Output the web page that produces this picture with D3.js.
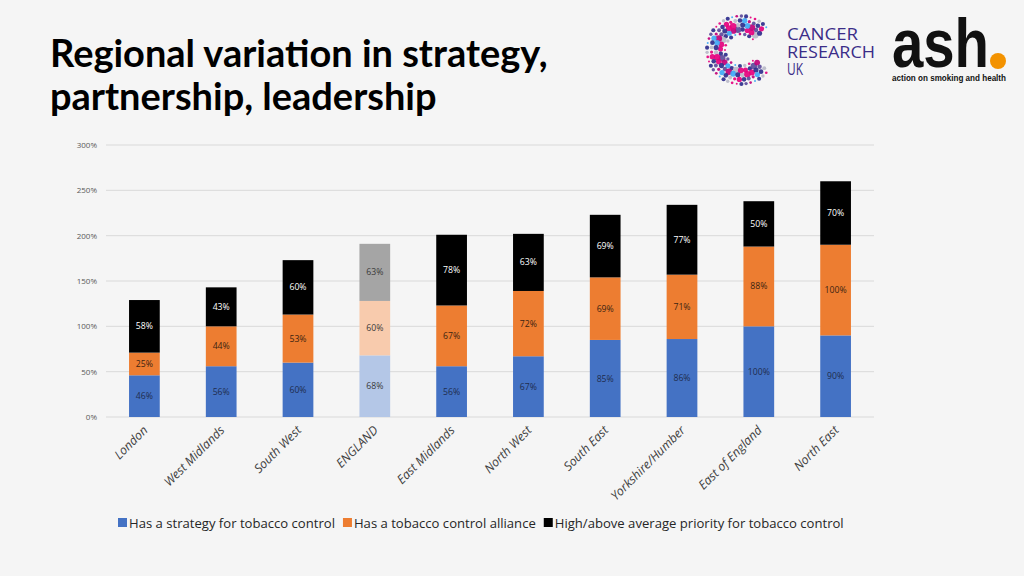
<!DOCTYPE html>
<html><head><meta charset="utf-8">
<script src="https://cdn.jsdelivr.net/npm/d3@7"></script>
<style>
html,body{margin:0;padding:0;background:#f5f5f5;}
svg{display:block;}
</style></head>
<body>
<svg id="c" width="1024" height="576"></svg>
<script>
const categories = ["London","West Midlands","South West","ENGLAND","East Midlands","North West","South East","Yorkshire/Humber","East of England","North East"];
const strategy = [46,56,60,68,56,67,85,86,100,90];
const alliance = [25,44,53,60,67,72,69,71,88,100];
const priority = [58,43,60,63,78,63,69,77,50,70];
const seriesNames = ["Has a strategy for tobacco control","Has a tobacco control alliance","High/above average priority for tobacco control"];
const yTicks = [0,50,100,150,200,250,300];
const highlight = "ENGLAND";

const colors = ["#4472c4","#ed7d31","#000000"];
const lightColors = ["#b4c7e7","#f8cbad","#a5a5a5"];
const labelColors = ["#1f2d4e","#3b2412","#ffffff"];
const lightLabelColors = ["#3a3a3a","#3a3a3a","#3a3a3a"];

const svg = d3.select("#c");
svg.append("rect").attr("width",1024).attr("height",576).attr("fill","#f5f5f5");

// Title
const title = svg.append("g").attr("font-family","Lato, 'Open Sans', sans-serif").attr("font-weight","bold").attr("fill","#000");
const t1 = title.append("text").attr("x",50).attr("y",67).attr("font-size",34).text("Regional variation in strategy,");
const t2 = title.append("text").attr("x",50).attr("y",110).attr("font-size",34).text("partnership, leadership");
const w1 = t1.node().getComputedTextLength();
const s = 498 / w1;
t1.attr("font-size", 34*s);
t2.attr("font-size", 34*s);

// Chart
const m = {l:106, r:874, t:145, b:417};
const x = d3.scaleBand().domain(categories).range([m.l,m.r]).paddingInner(0.6).paddingOuter(0.3);
const y = d3.scaleLinear().domain([0,300]).range([m.b,m.t]);

const yAxis = d3.axisLeft(y).tickValues(yTicks).tickFormat(d=>d+"%").tickSize(0).tickPadding(9);
const gy = svg.append("g").attr("transform",`translate(${m.l},0)`).call(yAxis);
gy.select(".domain").remove();
gy.selectAll("text").attr("font-family","'Open Sans', sans-serif").attr("font-size",8).attr("fill","#595959");

svg.append("g").selectAll("line").data(yTicks).join("line")
  .attr("x1",m.l).attr("x2",m.r).attr("y1",d=>y(d)).attr("y2",d=>y(d))
  .attr("stroke","#d9d9d9").attr("stroke-width",1);

const data = categories.map((c,i)=>({cat:c, strategy:strategy[i], alliance:alliance[i], priority:priority[i]}));
const keys = ["strategy","alliance","priority"];
const stacked = d3.stack().keys(keys)(data);

const bars = svg.append("g");
stacked.forEach((layer,k)=>{
  const g = bars.append("g");
  g.selectAll("rect").data(layer).join("rect")
    .attr("x",d=>x(d.data.cat)).attr("width",x.bandwidth())
    .attr("y",d=>y(d[1])).attr("height",d=>y(d[0])-y(d[1]))
    .attr("fill",d=>d.data.cat===highlight?lightColors[k]:colors[k]);
  g.selectAll("text").data(layer).join("text")
    .attr("x",d=>x(d.data.cat)+x.bandwidth()/2)
    .attr("y",d=>(y(d[0])+y(d[1]))/2)
    .attr("dy","0.35em").attr("text-anchor","middle")
    .attr("font-family","'Open Sans', sans-serif").attr("font-size",8.7)
    .attr("fill",d=>d.data.cat===highlight?lightLabelColors[k]:labelColors[k])
    .text(d=>(d[1]-d[0])+"%");
});

// X labels
svg.append("g").selectAll("text").data(categories).join("text")
  .attr("transform",d=>`translate(${x(d)+x.bandwidth()/2+4},${431}) rotate(-45)`)
  .attr("text-anchor","end")
  .attr("font-family","'Open Sans', sans-serif").attr("font-size",12.3).attr("font-style","italic")
  .attr("fill","#404040").text(d=>d);

// Legend
const leg = svg.append("g").attr("font-family","'Open Sans', sans-serif").attr("font-size",13.1).attr("fill","#262626");
let lx = 118;
seriesNames.forEach((n,i)=>{
  leg.append("rect").attr("x",lx).attr("y",518).attr("width",9).attr("height",9).attr("fill",colors[i]);
  const tx = leg.append("text").attr("x",lx+11).attr("y",527.5).text(n);
  lx += 11 + tx.node().getComputedTextLength() + 8;
});

// Logo: Cancer Research UK (decorative dotted C)
const logo = svg.append("g");
const cx0 = 741, cy0 = 50;
const dotCols = ["#e5007e","#2e2d8c","#5c4b9b","#e5007e","#3fa9f5","#2e2d8c","#b8b8c8","#c0007a"];
const rings = [16,20.5,25,29.5,34];
let idx = 0;
rings.forEach((R,ri)=>{
  const n = Math.round(R*1.05);
  for (let j=0;j<n;j++){
    const deg = 42 + (276*j)/(n-1) + ((ri%2)?4:0);
    const a = deg*Math.PI/180;
    const px = cx0 + R*Math.cos(a);
    const py = cy0 - R*Math.sin(a);
    const base = (ri===1||ri===2) ? 2.6 : (ri===3 ? 2.0 : 1.4);
    const r = base + ((idx*7)%4)*0.35 - 0.4;
    logo.append("circle").attr("cx",px).attr("cy",py)
      .attr("r",Math.max(0.8,r)).attr("fill",dotCols[(idx*5+ri)%dotCols.length]).attr("opacity",0.92);
    idx++;
  }
});
const crText = svg.append("g").attr("font-family","'Open Sans', sans-serif").attr("font-size",17).attr("fill","#3b2d88");
crText.append("text").attr("x",787).attr("y",40).attr("textLength",71).attr("lengthAdjust","spacingAndGlyphs").text("CANCER");
crText.append("text").attr("x",787).attr("y",57.5).attr("textLength",88).attr("lengthAdjust","spacingAndGlyphs").text("RESEARCH");
crText.append("text").attr("x",787).attr("y",75).attr("textLength",16).attr("lengthAdjust","spacingAndGlyphs").text("UK");

// ash logo
svg.append("text").attr("x",892).attr("y",67).attr("font-family","'Liberation Sans','Arial',sans-serif")
  .attr("font-weight","bold").attr("font-size",68).attr("fill","#111")
  .attr("textLength",97).attr("lengthAdjust","spacingAndGlyphs").text("ash");
svg.append("circle").attr("cx",998).attr("cy",61).attr("r",8).attr("fill","#f39200");
svg.append("text").attr("x",892).attr("y",81).attr("font-family","'Liberation Sans Narrow','Liberation Sans',sans-serif")
  .attr("font-weight","bold").attr("font-size",9.5).attr("fill","#111")
  .attr("textLength",114).attr("lengthAdjust","spacingAndGlyphs").text("action on smoking and health");
</script>
</body></html>
